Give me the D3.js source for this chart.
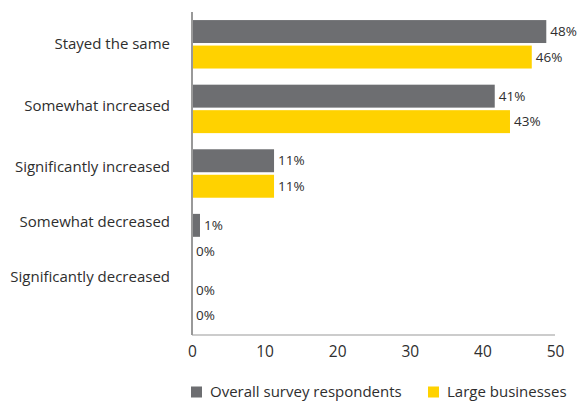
<!DOCTYPE html>
<html><head><meta charset="utf-8">
<script src="https://cdn.jsdelivr.net/npm/d3@7"></script>
<style>
body{margin:0;background:#fff;}
text{font-family:"Open Sans","Noto Sans",sans-serif;fill:#2e2e2e;}
</style></head><body>
<svg id="c" width="579" height="401"></svg>
<script>
const categories = ["Stayed the same","Somewhat increased","Significantly increased","Somewhat decreased","Significantly decreased"];
const seriesNames = ["Overall survey respondents","Large businesses"];
const overallValues = [48.8, 41.7, 11.3, 1.1, 0];
const largeValues = [46.8, 43.8, 11.3, 0, 0];
const overallLabels = ["48%","41%","11%","1%","0%"];
const largeLabels = ["46%","43%","11%","0%","0%"];
const xTicks = [0,10,20,30,40,50];
const colors = ["#6d6e71","#ffd200"];

const FONT = '"Open Sans","Noto Sans",sans-serif';
const svg = d3.select("#c");
const x = d3.scaleLinear().domain([0,50]).range([192,555]);
const y = d3.scaleBand().domain(categories).range([12,335]).paddingInner(0.25).paddingOuter(0.125);
const sub = d3.scaleBand().domain([0,1]).range([0,y.bandwidth()]).paddingInner(0.1);
// category label positions (as placed in the original chart)
const labelY = d3.scaleLinear().domain([0,2,4]).range([44,167,277]);

const series = [overallValues, largeValues];
const labels = [overallLabels, largeLabels];

series.forEach((vals,si)=>{
  svg.append("g").selectAll("rect").data(vals).enter().append("rect")
    .attr("x", x(0))
    .attr("y",(d,i)=>y(categories[i])+sub(si))
    .attr("width", d=>x(d)-x(0))
    .attr("height", sub.bandwidth())
    .attr("fill", colors[si]);
  svg.append("g").selectAll("text").data(vals).enter().append("text")
    .attr("x", d=>x(d)+4)
    .attr("y",(d,i)=>y(categories[i])+sub(si)+sub.bandwidth()/2)
    .attr("dy","0.35em")
    .attr("font-size",13.5)
    .text((d,i)=>labels[si][i]);
});

// axes lines
svg.append("line").attr("x1",x(0)).attr("x2",x(0)).attr("y1",12).attr("y2",335)
  .attr("stroke","#999").attr("stroke-width",2);
svg.append("line").attr("x1",x(0)).attr("x2",x(50)).attr("y1",335).attr("y2",335)
  .attr("stroke","#999").attr("stroke-width",1);

const xAxis = svg.append("g").attr("transform","translate(0,335)")
  .call(d3.axisBottom(x).tickValues(xTicks).tickSize(0).tickPadding(11));
xAxis.select(".domain").remove();
xAxis.selectAll("text").attr("font-size",15.5).style("font-family",FONT).attr("fill","#2e2e2e");

svg.append("g").selectAll("text").data(categories).enter().append("text")
  .attr("x",170).attr("y",(d,i)=>labelY(i)).attr("dy","0.35em")
  .attr("text-anchor","end").attr("font-size",15).text(d=>d);

// legend
const legX = [191, 428];
seriesNames.forEach((n,i)=>{
  svg.append("rect").attr("x",legX[i]).attr("y",386.5).attr("width",11).attr("height",11).attr("fill",colors[i]);
  svg.append("text").attr("x",legX[i]+19).attr("y",391.5).attr("dy","0.35em").attr("font-size",15).text(n);
});
</script></body></html>
